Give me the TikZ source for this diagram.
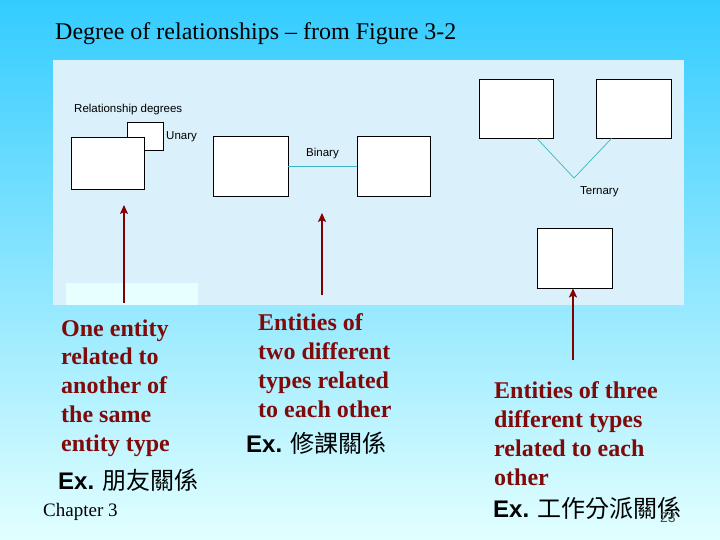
\documentclass[tikz,border=0pt]{standalone}
\usepackage{fontspec}
\setmainfont{Liberation Serif}
\setsansfont{Liberation Sans}
\newfontfamily\cjk{Noto Sans CJK TC}
\usetikzlibrary{positioning,arrows.meta,calc}

\definecolor{slidetop}{RGB}{51,204,255}
\definecolor{slidebot}{RGB}{226,255,255}
\definecolor{panelblue}{RGB}{218,240,250}
\definecolor{panelpale}{RGB}{232,255,255}
\definecolor{txtred}{RGB}{128,10,10}
\definecolor{ptrred}{RGB}{130,0,0}
\definecolor{relline}{RGB}{60,180,195}

\begin{document}
\begin{tikzpicture}[x=1pt,y=-1pt,
  ent/.style={rectangle,draw=black,fill=white,line width=0.9pt,inner sep=0pt},
  lbl/.style={font=\sffamily\fontsize{11.5}{13}\selectfont,inner sep=0pt,anchor=west},
  desc/.style={font=\fontsize{24}{28.7}\selectfont\bfseries,text=txtred,align=left,anchor=base west,inner sep=0pt},
  exs/.style={font=\fontsize{24}{29}\selectfont,anchor=base west,inner sep=0pt},
  ptr/.style={-{Stealth[length=9pt,width=8pt,inset=2pt]},line width=1.8pt,draw=ptrred},
  rel/.style={draw=relline,line width=0.7pt},
]
\useasboundingbox (0,0) rectangle (720,540);

% === Slide background ===
\shade[top color=slidetop,bottom color=slidebot] (0,0) rectangle (720,540);
\fill[panelblue] (53,60) rectangle (684,305);
\fill[panelpale] (66,283) rectangle (198,305);

% === Title ===
\node[font=\fontsize{24}{29}\selectfont,anchor=base west,inner sep=0pt] (title) at (55,40)
  {Degree of relationships -- from Figure 3-2};

% === Unary ===
\node[lbl] (reldeg) at (74,110) {Relationship degrees};
\node[ent,minimum width=36pt,minimum height=28pt] (u0) at (145,136) {};
\node[ent,minimum width=73pt,minimum height=52pt] (u1) at (107.5,163) {};
\node[lbl] (unary) at (166,137) {Unary};

% === Binary ===
\node[ent,minimum width=75pt,minimum height=60pt] (bl) at (250.5,166) {};
\node[ent,minimum width=73pt,minimum height=60pt] (br) at (393.5,166) {};
\draw[rel] (bl) -- (br);
\node[lbl] (binary) at (306,154) {Binary};

% === Ternary ===
\node[ent,minimum width=74pt,minimum height=59pt] (ttl) at (516,108.5) {};
\node[ent,minimum width=75pt,minimum height=59pt] (ttr) at (633.5,108.5) {};
\node[ent,minimum width=75pt,minimum height=60pt] (tb) at (574.5,258) {};
\draw[line width=1.8pt] (tb.south west) -- (tb.south east);
\coordinate (tv) at (574,178);
\draw[rel] ($(ttl.south west)!0.78!(ttl.south east)$) -- (tv)
  -- ($(ttr.south west)!0.21!(ttr.south east)$);
\node[lbl] (ternary) at (580,192) {Ternary};

% === Pointers ===
\coordinate (p1) at (124,303);
\coordinate (q1) at (124,205);
\coordinate (p2) at (322,295);
\coordinate (q2) at (322,213);
\coordinate (p3) at (573,360);
\draw[ptr] (p1) -- (q1);
\draw[ptr] (p2) -- (q2);
\draw[ptr] (p3) -- (p3 |- tb.south);

% === Descriptions (anchored at the last line) ===
\node[desc] (dunary) at (61,451) {One entity\\related to\\another of\\the same\\entity type};
\node[desc] (dbinary) at (258,417) {Entities of\\two different\\types related\\to each other};
\node[desc] (dternary) at (494,485) {Entities of three\\different types\\related to each\\other};

\node[exs] (exunary) at (58,489) {{\sffamily\bfseries Ex.} {\cjk 朋友關係}};
\node[exs] (exbinary) at (246,452) {{\sffamily\bfseries Ex.} {\cjk 修課關係}};
\node[exs] (externary) at (493,517) {{\sffamily\bfseries Ex.} {\cjk 工作分派關係}};

% === Footer ===
\node[font=\fontsize{19}{22}\selectfont,anchor=base west,inner sep=0pt] (chapter) at (43,516) {Chapter 3};
\node[font=\sffamily\fontsize{14}{16}\selectfont,text=black!70,anchor=base west,inner sep=0pt] (pageno) at (660,522) {23};

\end{tikzpicture}
\end{document}
